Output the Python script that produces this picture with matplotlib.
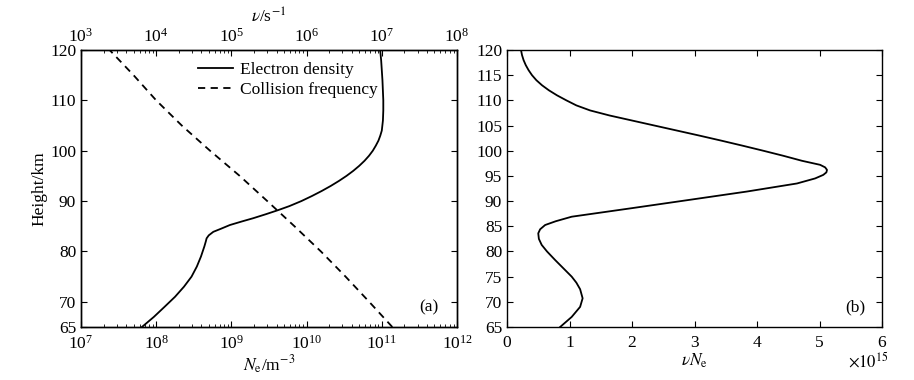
import matplotlib
matplotlib.use("Agg")
import matplotlib.pyplot as plt
from matplotlib.lines import Line2D
from matplotlib.ticker import FixedLocator, LogLocator, FuncFormatter

plt.rcParams["font.family"] = ["Liberation Serif", "DejaVu Serif"]
plt.rcParams["mathtext.fontset"] = "stix"
plt.rcParams["font.size"] = 12.5
plt.rcParams["xtick.direction"] = "in"
plt.rcParams["ytick.direction"] = "in"
plt.rcParams["xtick.major.size"] = 4
plt.rcParams["ytick.major.size"] = 4
plt.rcParams["xtick.minor.size"] = 2
plt.rcParams["ytick.minor.size"] = 2
plt.rcParams["xtick.major.pad"] = 5.5
plt.rcParams["axes.linewidth"] = 1.0

# electron density profile (height km, Ne in m^-3)
h_ne = [65, 67, 69, 71, 73, 75, 77, 79, 81, 82, 82.6, 83.2, 83.9, 84.5, 85.25, 86,
        86.6, 87.4, 88.2, 89, 90, 91, 92, 93, 94, 95, 96, 97, 98, 99, 100, 101,
        102, 103, 104, 106, 108, 110, 114, 118, 120]
ne = [6.46e7, 9.3e7, 1.29e8, 1.78e8, 2.34e8, 2.95e8, 3.47e8, 3.94e8, 4.37e8, 4.57e8,
      4.68e8, 5.0e8, 5.75e8, 7.24e8, 9.55e8, 1.41e9, 1.95e9, 2.88e9, 4.17e9, 5.89e9,
      8.51e9, 1.175e10, 1.585e10, 2.09e10, 2.69e10, 3.39e10, 4.17e10, 5.01e10,
      5.89e10, 6.76e10, 7.59e10, 8.32e10, 9.02e10, 9.55e10, 1.0e11, 1.035e11,
      1.047e11, 1.047e11, 1.02e11, 9.8e10, 9.5e10]

# collision frequency (s^-1)
h_nu = [65, 70, 75, 80, 85, 90, 95, 100, 105, 110, 115, 120]
nu = [1.38e7, 6.8e6, 3.3e6, 1.55e6, 6.9e5, 3.0e5, 1.29e5, 5.2e4, 2.19e4, 1.0e4, 5.0e3, 2.4e3]

# product nu*Ne
h_prod = [65, 67, 69, 70.7, 72.5, 73.8, 75, 78.3, 80, 81.3, 82.5, 83.6, 84.4, 85.25,
          86, 86.9, 88.6, 90.3, 91.9, 93.5, 94.5, 95.2, 95.7, 96.2, 96.7, 97.2, 98,
          99, 100, 101, 102, 103, 104, 105, 106, 107, 108, 109, 110, 111, 112, 113,
          114, 115, 116, 117, 118, 119, 120]
prod = [0.85e15, 1.035e15, 1.17e15, 1.21e15, 1.17e15, 1.11e15, 1.035e15, 0.77e15,
        0.64e15, 0.555e15, 0.51e15, 0.50e15, 0.53e15, 0.61e15, 0.78e15, 1.035e15,
        2.0e15, 2.95e15, 3.84e15, 4.64e15, 4.93e15, 5.06e15, 5.11e15, 5.12e15,
        5.09e15, 5.01e15, 4.72e15, 4.42e15, 4.10e15, 3.77e15, 3.43e15, 3.08e15,
        2.72e15, 2.36e15, 2.0e15, 1.64e15, 1.33e15, 1.11e15, 0.95e15, 0.80e15,
        0.67e15, 0.56e15, 0.47e15, 0.40e15, 0.345e15, 0.30e15, 0.265e15, 0.24e15,
        0.224e15]

W, H = 914, 380
fig = plt.figure(figsize=(W / 100, H / 100), dpi=100)

# panel (a)
ax = fig.add_axes([81 / W, 53 / H, 376 / W, 277 / H])
ax.plot(ne, h_ne, color="black", lw=1.3)
ax.set_xscale("log")
ax.set_xlim(1e7, 1e12)
ax.set_ylim(65, 120)
ax.yaxis.set_major_locator(FixedLocator([65, 70, 80, 90, 100, 110, 120]))
ax.xaxis.set_minor_locator(LogLocator(base=10, subs=range(2, 10), numticks=20))
ax.tick_params(which="both", right=True)
ax.set_xlabel(r"$N_\mathrm{e}$/m$^{-3}$", labelpad=1)
ax.set_ylabel("Height/km", labelpad=2)
ax.text(0.925, 0.07, "(a)", transform=ax.transAxes, ha="center", va="center")

ax2 = ax.twiny()
ax2.plot(nu, h_nu, color="black", lw=1.3, ls=(0, (4, 3)))
ax2.set_xscale("log")
ax2.set_xlim(1e3, 1e8)
ax2.xaxis.set_minor_locator(LogLocator(base=10, subs=range(2, 10), numticks=20))
ax2.tick_params(axis="x", which="major", pad=3)
ax2.set_xlabel(r"$\nu$/s$^{-1}$", labelpad=4)

handles = [Line2D([], [], color="black", lw=1.3),
           Line2D([], [], color="black", lw=1.3, ls=(0, (4, 3)))]
ax.legend(handles, ["Electron density", "Collision frequency"], loc="upper left",
          bbox_to_anchor=(0.28, 1.0), frameon=False, handlelength=2.0,
          handletextpad=0.4, labelspacing=0.2, borderaxespad=0.3)

# panel (b)
bx = fig.add_axes([507 / W, 53 / H, 375 / W, 277 / H])
bx.plot(prod, h_prod, color="black", lw=1.3)
bx.set_xlim(0, 6e15)
bx.set_ylim(65, 120)
bx.set_yticks(range(65, 121, 5))
bx.set_xticks([i * 1e15 for i in range(7)])
bx.xaxis.set_major_formatter(FuncFormatter(lambda v, p: f"{v / 1e15:g}"))
bx.tick_params(top=True, right=True)
bx.set_xlabel(r"$\nu N_\mathrm{e}$", labelpad=1)
bx.text(1.018, -0.125, r"$\times10^{15}$", transform=bx.transAxes, ha="right",
        va="center", fontsize=12)
bx.text(0.93, 0.07, "(b)", transform=bx.transAxes, ha="center", va="center")

fig.savefig("out.png", dpi=100)
